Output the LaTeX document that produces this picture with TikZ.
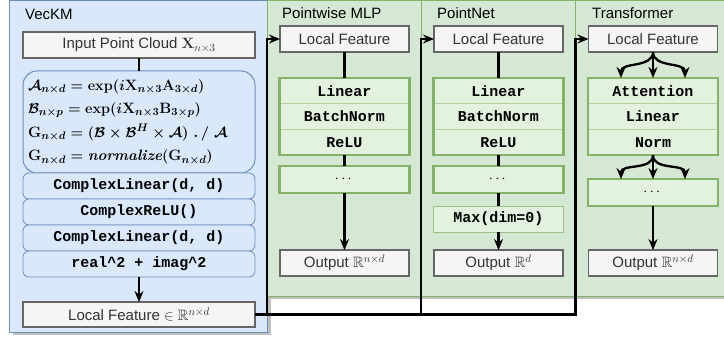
\documentclass[tikz,border=0pt]{standalone}
\usepackage{amsmath,amssymb}
\usepackage[no-math]{fontspec}
\setsansfont{Liberation Sans}
\setmonofont{Liberation Mono}
\usetikzlibrary{arrows.meta,positioning,shadows}

\definecolor{vkfill}{HTML}{DAE8FC}
\definecolor{vkline}{HTML}{6C8EBF}
\definecolor{grfill}{HTML}{D5E8D4}
\definecolor{grline}{HTML}{82B366}
\definecolor{grcell}{HTML}{E2F2DE}
\definecolor{boxfill}{HTML}{F5F5F5}
\definecolor{boxline}{HTML}{666666}

\newcommand{\vbf}[1]{\text{\rmfamily\bfseries #1}}

\begin{document}
\begin{tikzpicture}[x=1pt,y=-1pt,
  font=\sffamily\fontsize{15}{18}\selectfont,
  panel/.style={line width=1pt,anchor=north west,inner sep=0pt,
    drop shadow={shadow xshift=3pt,shadow yshift=-3pt,fill=black!25,opacity=1}},
  paneltitle/.style={anchor=west,inner sep=0pt},
  graybox/.style={draw=boxline,fill=boxfill,line width=1.2pt,minimum width=129pt,minimum height=26pt,inner sep=0pt,outer sep=0pt,text=black!80},
  eqbox/.style={draw=vkline,fill=vkfill,rounded corners=14pt,line width=1pt,minimum width=232pt,minimum height=102pt,outer sep=0pt,
    text width=222pt,align=left,inner xsep=5pt,font=\fontsize{15}{23.5}\selectfont\boldmath},
  vcell/.style={draw=vkline,fill=vkfill,rounded corners=6pt,line width=0.8pt,minimum width=232pt,minimum height=26pt,inner sep=0pt,outer sep=0pt,
    font=\ttfamily\bfseries\fontsize{15}{18}\selectfont},
  gcell/.style={draw=grline!60,fill=grcell,line width=0.8pt,minimum width=130pt,minimum height=25.7pt,inner sep=0pt,outer sep=0pt,
    font=\ttfamily\bfseries\fontsize{15}{18}\selectfont},
  dotsbox/.style={draw=grline,fill=grcell,line width=2.5pt,minimum width=130pt,minimum height=27pt,inner sep=0pt,outer sep=0pt},
  grpframe/.style={draw=grline,line width=2.5pt},
  conn/.style={line width=2.3pt},
  flow/.style={-{Stealth[length=11pt,width=9pt,inset=3.5pt]}}
]
  \useasboundingbox (0,0) rectangle (724,339);

  % panels
  \node[panel,draw=vkline,fill=vkfill,minimum width=258pt,minimum height=332pt] (veckm) at (9,0) {};
  \node[panel,draw=grline,fill=grfill,minimum width=154pt,minimum height=296pt] (mlppanel) at (267,0) {};
  \node[panel,draw=grline,fill=grfill,minimum width=154pt,minimum height=296pt] (pnpanel) at (421,0) {};
  \node[panel,draw=grline,fill=grfill,minimum width=160pt,minimum height=296pt] (tfpanel) at (575,0) {};

  \node[paneltitle] (vktitle) at (25,14) {VecKM};
  \node[paneltitle] (mlptitle) at (282,13) {Pointwise MLP};
  \node[paneltitle] (pntitle) at (437,13) {PointNet};
  \node[paneltitle] (tftitle) at (592,13) {Transformer};

  % VecKM
  \node[graybox,minimum width=232pt] (input) at (139,45) {Input Point Cloud $\vbf{X}_{n\times 3}$};
  \node[eqbox,below=13pt of input] (eqs) {%
    $\mathcal{A}_{n\times d} = \exp(i\vbf{X}_{n\times 3}\vbf{A}_{3\times d})$\\
    $\mathcal{B}_{n\times p} = \exp(i\vbf{X}_{n\times 3}\vbf{B}_{3\times p})$\\
    $\vbf{G}_{n\times d} = (\mathcal{B}\times\mathcal{B}^H\times\mathcal{A})\ .\,/\ \mathcal{A}$\\
    $\vbf{G}_{n\times d} = \text{\rmfamily\bfseries\itshape normalize}(\vbf{G}_{n\times d})$};
  \node[vcell,below=0pt of eqs] (clin1) {ComplexLinear(d, d)};
  \node[vcell,below=0pt of clin1] (crelu) {ComplexReLU()};
  \node[vcell,below=0pt of crelu] (clin2) {ComplexLinear(d, d)};
  \node[vcell,below=0pt of clin2] (power) {real\textasciicircum2 + imag\textasciicircum2};
  \node[graybox,minimum width=232pt,minimum height=25pt,below=25pt of power] (vfeat) {Local Feature $\in\mathbb{R}^{n\times d}$};

  \draw[conn] (input) -- (eqs);
  \draw[conn,flow] (power) -- (vfeat);

  % Pointwise MLP
  \node[graybox] (mlpin) at (344.5,39) {Local Feature};
  \node[gcell,below=26pt of mlpin] (mlplin) {Linear};
  \node[gcell,below=0pt of mlplin] (mlpbn) {BatchNorm};
  \node[gcell,below=0pt of mlpbn] (mlprelu) {ReLU};
  \draw[grpframe] (mlplin.north west) rectangle (mlprelu.south east);
  \node[dotsbox,below=11pt of mlprelu] (mlpdots) {$\cdots$};
  \node[graybox,below=57pt of mlpdots] (mlpout) {Output $\mathbb{R}^{n\times d}$};

  \draw[conn] (mlpin) -- (mlplin);
  \draw[conn] (mlprelu) -- (mlpdots);
  \draw[conn,flow] (mlpdots) -- (mlpout);

  % PointNet
  \node[graybox] (pnin) at (498.5,39) {Local Feature};
  \node[gcell,below=26pt of pnin] (pnlin) {Linear};
  \node[gcell,below=0pt of pnlin] (pnbn) {BatchNorm};
  \node[gcell,below=0pt of pnbn] (pnrelu) {ReLU};
  \draw[grpframe] (pnlin.north west) rectangle (pnrelu.south east);
  \node[dotsbox,below=11pt of pnrelu] (pndots) {$\cdots$};
  \node[gcell,draw=grline!80,minimum height=26pt,below=13pt of pndots] (pnmax) {Max(dim=0)};
  \node[graybox,below=18pt of pnmax] (pnout) {Output $\mathbb{R}^{d}$};

  \draw[conn] (pnin) -- (pnlin);
  \draw[conn] (pnrelu) -- (pndots);
  \draw[conn] (pndots) -- (pnmax);
  \draw[conn,flow] (pnmax) -- (pnout);

  % Transformer
  \node[graybox] (tfin) at (653,39) {Local Feature};
  \node[gcell,below=26pt of tfin] (tfatt) {Attention};
  \node[gcell,below=0pt of tfatt] (tflin) {Linear};
  \node[gcell,below=0pt of tflin] (tfnorm) {Norm};
  \draw[grpframe] (tfatt.north west) rectangle (tfnorm.south east);
  \node[dotsbox,below=24pt of tfnorm] (tfdots) {$\cdots$};
  \node[graybox,below=44pt of tfdots] (tfout) {Output $\mathbb{R}^{n\times d}$};

  \draw[conn,flow] (tfin.south) to[out=-90,in=90] ([xshift=-32pt]tfatt.north);
  \draw[conn,flow] (tfin.south) -- (tfatt.north);
  \draw[conn,flow] (tfin.south) to[out=-90,in=90] ([xshift=32pt]tfatt.north);
  \draw[conn,flow] (tfnorm.south) to[out=-90,in=90] ([xshift=-32pt]tfdots.north);
  \draw[conn,flow] (tfnorm.south) -- (tfdots.north);
  \draw[conn,flow] (tfnorm.south) to[out=-90,in=90] ([xshift=32pt]tfdots.north);
  \draw[conn,flow] (tfdots) -- (tfout);

  % feature feeds
  \draw[conn,flow] (vfeat.east) -| ([xshift=-13pt]mlpin.west) -- (mlpin.west);
  \draw[conn,flow] (vfeat.east) -| ([xshift=-13pt]pnin.west) -- (pnin.west);
  \draw[conn,flow] (vfeat.east) -| ([xshift=-13pt]tfin.west) -- (tfin.west);
\end{tikzpicture}
\end{document}
